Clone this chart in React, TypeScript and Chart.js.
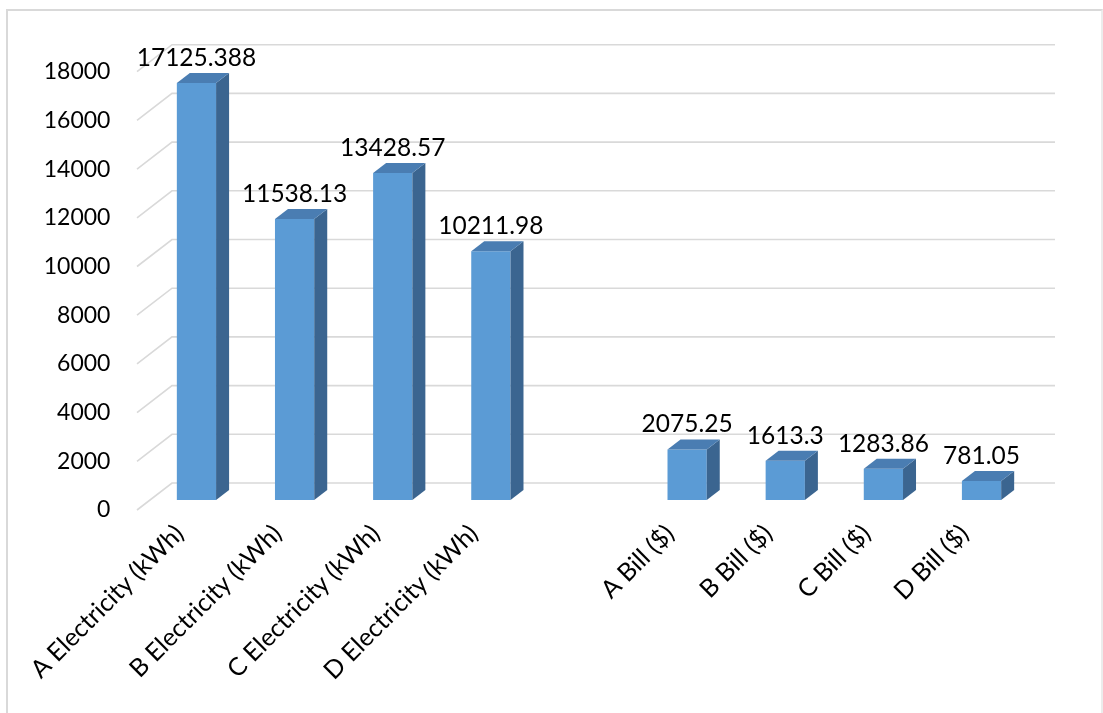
import React, { useEffect, useRef } from 'react';
import { Chart, registerables } from 'chart.js';

Chart.register(...registerables);

const categories = [
  'A Electricity (kWh)',
  'B Electricity (kWh)',
  'C Electricity (kWh)',
  'D Electricity (kWh)',
  '',
  'A Bill ($)',
  'B Bill ($)',
  'C Bill ($)',
  'D Bill ($)',
];
const values: (number | null)[] = [17125.388, 11538.13, 13428.57, 10211.98, null, 2075.25, 1613.3, 1283.86, 781.05];
const valueLabels = ['17125.388', '11538.13', '13428.57', '10211.98', '', '2075.25', '1613.3', '1283.86', '781.05'];
const yTickValues = [0, 2000, 4000, 6000, 8000, 10000, 12000, 14000, 16000, 18000];

const FRONT = '#5B9BD5';
const SIDE = '#3B6590';
const TOP = '#4A7DB2';
const GRID = '#d9d9d9';
const FONT = 'Lato, "Open Sans", sans-serif';
const DX = 13;
const DY = 10;

const threeD = {
  id: 'threeD',
  beforeDatasetsDraw(chart: any) {
    const { ctx, chartArea } = chart;
    const y = chart.scales.y;
    ctx.save();
    ctx.strokeStyle = GRID;
    ctx.lineWidth = 1.6;
    for (const v of yTickValues) {
      const p = y.getPixelForValue(v);
      ctx.beginPath();
      ctx.moveTo(chartArea.left - 10.4, p + 10);
      ctx.lineTo(chartArea.left + 24.6, p - 17);
      ctx.lineTo(chartArea.right + 24.4, p - 17);
      ctx.stroke();
    }
    ctx.restore();
  },
  afterDatasetsDraw(chart: any) {
    const { ctx } = chart;
    const meta = chart.getDatasetMeta(0);
    ctx.save();
    meta.data.forEach((bar: any, i: number) => {
      if (values[i] == null) return;
      const { x, y, base, width } = bar.getProps(['x', 'y', 'base', 'width'], true);
      const l = x - width / 2;
      const r = x + width / 2;
      ctx.fillStyle = SIDE;
      ctx.beginPath();
      ctx.moveTo(r, y);
      ctx.lineTo(r + DX, y - DY);
      ctx.lineTo(r + DX, base - DY);
      ctx.lineTo(r, base);
      ctx.closePath();
      ctx.fill();
      ctx.fillStyle = TOP;
      ctx.beginPath();
      ctx.moveTo(l, y);
      ctx.lineTo(l + DX, y - DY);
      ctx.lineTo(r + DX, y - DY);
      ctx.lineTo(r, y);
      ctx.closePath();
      ctx.fill();
      ctx.fillStyle = '#000';
      ctx.font = `24.5px ${FONT}`;
      ctx.textAlign = 'center';
      ctx.textBaseline = 'middle';
      ctx.fillText(valueLabels[i], x, y - 25);
    });
    ctx.restore();
  },
};

export default function App() {
  const ref = useRef<HTMLCanvasElement | null>(null);

  useEffect(() => {
    if (!ref.current) return;
    const chart = new Chart(ref.current, {
      type: 'bar',
      data: {
        labels: categories,
        datasets: [
          {
            data: values,
            backgroundColor: FRONT,
            borderWidth: 0,
            barPercentage: 0.4,
            categoryPercentage: 1,
          },
        ],
      },
      options: {
        animation: false,
        responsive: false,
        devicePixelRatio: 1,
        layout: { padding: { left: 0, right: 72.4, top: 61.7, bottom: 0 } },
        plugins: {
          legend: { display: false },
          tooltip: { enabled: false },
        },
        scales: {
          x: {
            grid: { display: false, drawTicks: false },
            border: { display: false },
            ticks: {
              autoSkip: false,
              maxRotation: 45,
              minRotation: 45,
              padding: 19,
              labelOffset: -17,
              color: '#000',
              font: { family: FONT, size: 25 },
            },
            afterFit(scale: any) {
              scale.height = 213;
            },
          },
          y: {
            min: 0,
            max: 18000,
            grid: { display: false, drawTicks: false },
            border: { display: false },
            ticks: {
              stepSize: 2000,
              padding: 37,
              labelOffset: 10,
              color: '#000',
              font: { family: FONT, size: 23 },
              callback: (v: any) => String(v),
            },
            afterFit(scale: any) {
              scale.width = 147.4;
            },
          },
        },
      },
      plugins: [threeD],
    });
    return () => chart.destroy();
  }, []);

  return (
    <div
      style={{
        position: 'fixed',
        left: 0,
        top: 0,
        width: 1103,
        height: 713,
        overflow: 'hidden',
        background: '#fff',
      }}
    >
      <div
        style={{
          position: 'absolute',
          left: 6,
          top: 9,
          width: 1093,
          height: 800,
          border: '2px solid #d9d9d9',
          borderRightColor: '#ececec',
        }}
      />
      <canvas
        ref={ref}
        width={1103}
        height={713}
        style={{ position: 'absolute', left: 0, top: 0, display: 'block' }}
      />
    </div>
  );
}
